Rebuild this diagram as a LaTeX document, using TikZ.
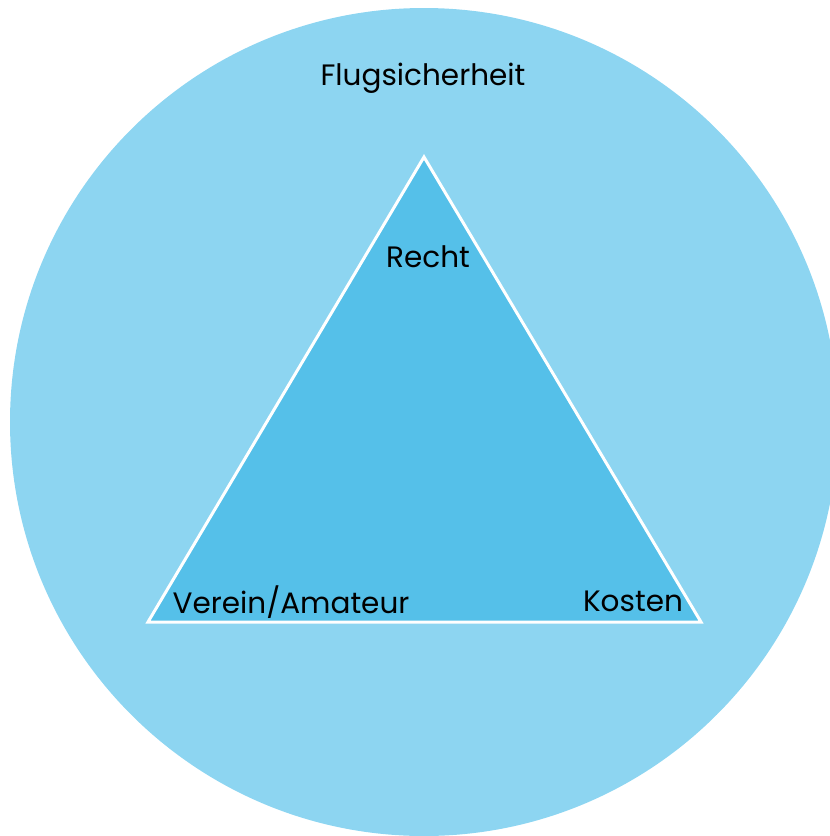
\documentclass[tikz,border=0pt]{standalone}
\usepackage{fontspec}
\setmainfont{Poppins}
\definecolor{outerblue}{HTML}{8DD5F1}
\definecolor{innerblue}{HTML}{55C0E9}
\begin{document}
\begin{tikzpicture}[x=1pt,y=-1pt,
  lbl/.style={font=\fontsize{29.5}{34}\selectfont, text=black, inner sep=0pt, anchor=base}]
\useasboundingbox (0,0) rectangle (830,836);
\begin{scope}
\clip (0,0) rectangle (830,836);
\fill[outerblue] (424,422) circle[radius=414];
\end{scope}
\coordinate (apex) at (424,157);
\coordinate (bl) at (148,622);
\coordinate (br) at (701,622);
\filldraw[fill=innerblue, draw=white, line width=3pt, line join=miter] (apex) -- (bl) -- (br) -- cycle;
\node[lbl] (flug) at (423,85) {Flugsicherheit};
\node[lbl] (recht) at (428,267) {Recht};
\node[lbl] (verein) at (291,613) {Verein/Amateur};
\node[lbl] (kosten) at (633,611) {Kosten};
\end{tikzpicture}
\end{document}
